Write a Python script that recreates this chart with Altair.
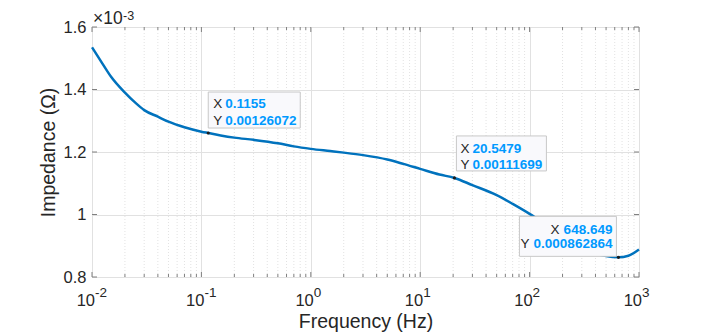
import altair as alt
import pandas as pd

# ---- data ----
freq = [0.01, 0.0125, 0.015, 0.02, 0.025, 0.03, 0.04, 0.05, 0.07, 0.1, 0.1155,
        0.15, 0.2, 0.3, 0.5, 0.7, 1, 1.5, 2, 3, 5, 7, 10, 15, 20.5479, 30, 50,
        70, 100, 150, 200, 300, 400, 500, 648.649, 800, 1000]
impedance = [0.001535, 0.001482, 0.001440, 0.001390, 0.001357, 0.001334,
             0.001313, 0.001297, 0.001279, 0.001265, 0.00126072, 0.001253,
             0.001246, 0.001239, 0.001228, 0.001218, 0.001210, 0.001203,
             0.001198, 0.001190, 0.001176, 0.001162, 0.001146, 0.001128,
             0.00111699, 0.001094, 0.001062, 0.001034, 0.001002, 0.000960,
             0.000930, 0.000895, 0.000876, 0.000867, 0.000862864, 0.000868,
             0.000888]

tip_freq = [0.1155, 20.5479, 648.649]
tip_imp = [0.00126072, 0.00111699, 0.000862864]
tip_freq_text = ["0.1155", "20.5479", "648.649"]
tip_imp_text = ["0.00126072", "0.00111699", "0.000862864"]

x_decades = [0.01, 0.1, 1, 10, 100, 1000]
x_exponents = ["-2", "-1", "0", "1", "2", "3"]
y_ticks = [0.0008, 0.001, 0.0012, 0.0014, 0.0016]
y_exponent = "-3"

x_minor = [m * d for d in x_decades[:-1] for m in range(2, 10)]

# ---- styling ----
W, H = 547, 250
FONT = "Liberation Sans"
DARK = "#262626"
AX = "#808080"
LINE = "#0072BD"
TIPBLUE = "#0099FF"

xs = alt.Scale(type="log", domain=[0.01, 1000], nice=False)
ys = alt.Scale(domain=[0.0008, 0.0016], nice=False, zero=False)

x_axis = alt.Axis(values=x_decades, labels=False, ticks=False, domain=False,
                  grid=True, gridColor="#e1e1e1", gridWidth=1,
                  title="Frequency (Hz)", titleFont=FONT, titleFontSize=19.5,
                  titleFontWeight="normal", titleColor=DARK, titlePadding=35)
y_axis = alt.Axis(values=y_ticks, labelExpr="format(datum.value*1000, '.1~f')",
                  labelFont=FONT, labelFontSize=16.5, labelColor=DARK,
                  labelPadding=6, ticks=False, domain=False, grid=True,
                  gridColor="#e1e1e1", gridWidth=1,
                  title="Impedance (Ω)", titleFont=FONT, titleFontSize=19.5,
                  titleFontWeight="normal", titleColor=DARK, titlePadding=5)


def X(field):
    return alt.X(f"{field}:Q", scale=xs, axis=x_axis)


def Y(field):
    return alt.Y(f"{field}:Q", scale=ys, axis=y_axis)


df = pd.DataFrame({"f": freq, "z": impedance})
df_xmaj = pd.DataFrame({"f": x_decades, "e": x_exponents, "b": ["10"] * len(x_decades)})
df_xmin = pd.DataFrame({"f": x_minor})
df_y = pd.DataFrame({"z": y_ticks})
df_one = pd.DataFrame({"b": ["×10"], "e": [y_exponent]})

layers = []

# minor grid (dotted)
layers.append(alt.Chart(df_xmin).mark_rule(color="#e2e2e2", strokeDash=[1, 2], strokeWidth=1)
              .encode(x=X("f"), y=alt.value(0), y2=alt.value(H)))

# main curve
layers.append(alt.Chart(df).mark_line(color=LINE, strokeWidth=2.5, interpolate="monotone")
              .encode(x=X("f"), y=Y("z")))

# inward ticks
for y0, y1, data in [(H, H - 5, df_xmaj), (0, 5, df_xmaj),
                     (H, H - 3, df_xmin), (0, 3, df_xmin)]:
    layers.append(alt.Chart(data).mark_rule(color=AX, strokeWidth=1)
                  .encode(x=X("f"), y=alt.value(y0), y2=alt.value(y1)))
for x0, x1 in [(0, 5), (W, W - 5)]:
    layers.append(alt.Chart(df_y).mark_rule(color=AX, strokeWidth=1)
                  .encode(y=Y("z"), x=alt.value(x0), x2=alt.value(x1)))

# x tick labels 10^n
layers.append(alt.Chart(df_xmaj).mark_text(align="right", baseline="alphabetic", dx=3,
                                           font=FONT, fontSize=16.5, color=DARK)
              .encode(x=X("f"), y=alt.value(H + 29), text="b:N"))
layers.append(alt.Chart(df_xmaj).mark_text(align="left", baseline="alphabetic", dx=3,
                                           font=FONT, fontSize=13.5, color=DARK)
              .encode(x=X("f"), y=alt.value(H + 20), text="e:N"))

# x10^-3 multiplier
layers.append(alt.Chart(df_one).mark_text(align="left", baseline="alphabetic",
                                          font=FONT, fontSize=17.5, color=DARK)
              .encode(x=alt.value(1), y=alt.value(-3), text="b:N"))
layers.append(alt.Chart(df_one).mark_text(align="left", baseline="alphabetic",
                                          font=FONT, fontSize=12.5, color=DARK)
              .encode(x=alt.value(31), y=alt.value(-7.5), text="e:N"))


def tip(i, box_path, align, xl_dx, xv_dx, yl_dx, yv_dx, dy1, dy2):
    d = pd.DataFrame({"f": [tip_freq[i]], "z": [tip_imp[i]],
                      "tx": [tip_freq_text[i]], "ty": [tip_imp_text[i]]})
    base = alt.Chart(d).encode(x=X("f"), y=Y("z"))
    out = [
        base.mark_point(shape=box_path, size=4, filled=True, fill="#f9f9fc",
                        stroke="#c8c8c8", strokeWidth=1, opacity=1, fillOpacity=1),
        base.mark_point(shape="circle", size=10, filled=True, color="#1a1a1a", opacity=1),
    ]
    common = dict(align=align, baseline="middle", font=FONT, fontSize=13.5)
    out.append(base.mark_text(dx=xl_dx, dy=dy1, color=DARK, **common).encode(text=alt.value("X")))
    out.append(base.mark_text(dx=yl_dx, dy=dy2, color=DARK, **common).encode(text=alt.value("Y")))
    out.append(base.mark_text(dx=xv_dx, dy=dy1, color=TIPBLUE, fontWeight="bold", **common)
               .encode(text="tx:N"))
    out.append(base.mark_text(dx=yv_dx, dy=dy2, color=TIPBLUE, fontWeight="bold", **common)
               .encode(text="ty:N"))
    return out


layers += tip(0, "M0,-5H92V-41H0Z", "left", 5, 17, 5, 17, -29, -12)
layers += tip(1, "M2,-7H92V-42H2Z", "left", 6, 18, 6, 18, -29, -13)
layers += tip(2, "M-2,-1H-99V-41H-2Z", "right", -59, -6, -89, -6, -27, -13)

chart = (alt.layer(*layers)
         .properties(width=W, height=H,
                     autosize=alt.AutoSizeParams(type="none"),
                     padding={"left": 84, "top": 19, "right": 59, "bottom": 58})
         .configure_view(stroke=AX, strokeWidth=1)
         .configure(background="white"))

chart.save("out.html", embed_options={"renderer": "svg", "actions": False})
